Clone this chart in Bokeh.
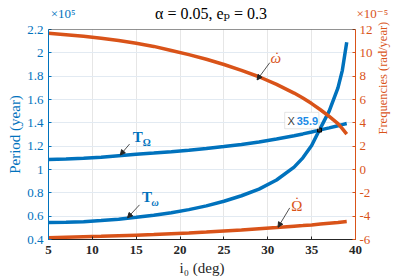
import numpy as np
from bokeh.plotting import figure
from bokeh.layouts import column
from bokeh.models import (Range1d, LinearAxis, FixedTicker, CustomJSTickFormatter,
                          Label, Arrow, NormalHead, BoxAnnotation, Span)
from bokeh.embed import file_html
from bokeh.resources import INLINE

# ---- data ----
i0 = [5, 7, 9, 11, 13, 15, 17, 19, 21, 23, 25, 27, 29, 31, 33, 34, 35, 36, 37, 38, 38.5, 39]
T_Omega = [1.085, 1.09, 1.097, 1.106, 1.118, 1.13, 1.141, 1.153, 1.166, 1.18, 1.197,
           1.215, 1.235, 1.262, 1.29, 1.305, 1.322, 1.340, 1.357, 1.375, 1.385, 1.394]
T_omega = [0.545, 0.548, 0.553, 0.562, 0.574, 0.59, 0.608, 0.63, 0.656, 0.688, 0.728,
           0.775, 0.832, 0.91, 1.02, 1.10, 1.205, 1.355, 1.50, 1.70, 1.85, 2.09]
omega_dot = [11.67, 11.56, 11.42, 11.25, 11.05, 10.82, 10.55, 10.2, 9.85, 9.45, 9.0,
             8.5, 7.95, 7.3, 6.55, 6.12, 5.65, 5.12, 4.55, 3.93, 3.5, 3.03]
Omega_dot = [-5.85, -5.81, -5.77, -5.73, -5.68, -5.63, -5.58, -5.51, -5.44, -5.36, -5.27,
             -5.18, -5.08, -4.98, -4.86, -4.81, -4.75, -4.68, -4.61, -4.54, -4.50, -4.46]
x_ticks = [5, 10, 15, 20, 25, 30, 35, 40]
left_ticks = [0.4, 0.6, 0.8, 1.0, 1.2, 1.4, 1.6, 1.8, 2.0, 2.2]
right_ticks = [-6, -4, -2, 0, 2, 4, 6, 8, 10, 12]
tip_x = 35.9
tip_y = 1.338
title_text = "α = 0.05,  eₚ = 0.3"
left_mult = "×10⁵"
right_mult = "×10⁻⁵"
left_title = "Period (year)"
right_title = "Frequencies (rad/year)"
x_title = "i₀ (deg)"

BLUE = "#0072BD"
ORANGE = "#D95319"
DARK = "#262626"
SERIF = "Liberation Serif, DejaVu Serif, serif"
SANS = "Liberation Sans, DejaVu Sans, sans-serif"

fmt = CustomJSTickFormatter(code="return String(Number(tick.toFixed(2)));")

W, HH = 399, 21
BL, BR = 48, 43

# ---- header strip (title and exponent multipliers) ----
h = figure(width=W, height=HH, output_backend="svg", toolbar_location=None,
           x_range=Range1d(5, 40), y_range=Range1d(0, HH), title_location=None,
           min_border_left=BL, min_border_right=BR, min_border_top=0, min_border_bottom=0,
           x_axis_type=None, y_axis_type=None)
h.outline_line_color = None
h.xgrid.visible = False
h.ygrid.visible = False
h.add_layout(Label(x=23.75, y=8, text=title_text, text_align="center",
                   text_baseline="middle", text_color="black", text_font=SERIF,
                   text_font_size="16px"))

def mult_axis(text, color, standoff):
    ax = LinearAxis(ticker=FixedTicker(ticks=[7]), major_label_overrides={7: text})
    ax.axis_line_color = None
    ax.major_tick_line_color = None
    ax.minor_tick_line_color = None
    ax.major_tick_out = 0
    ax.major_tick_in = 0
    ax.major_label_standoff = standoff
    ax.major_label_text_font = SERIF
    ax.major_label_text_font_size = "13px"
    ax.major_label_text_color = color
    return ax

h.add_layout(mult_axis(left_mult, BLUE, -27), "left")
h.add_layout(mult_axis(right_mult, ORANGE, 1), "right")

# ---- main chart ----
p = figure(width=W, height=279 - HH, output_backend="svg", toolbar_location=None,
           x_range=Range1d(5, 40), y_range=Range1d(0.4, 2.2), title_location=None,
           min_border_left=BL, min_border_right=BR, min_border_top=8, min_border_bottom=40)
p.extra_y_ranges = {"freq": Range1d(-6, 12)}
p.outline_line_color = None
p.background_fill_color = "white"

# grids
p.xgrid.ticker = FixedTicker(ticks=x_ticks)
p.ygrid.ticker = FixedTicker(ticks=left_ticks)
p.xgrid.grid_line_color = "#e6e6e6"
p.ygrid.grid_line_color = "#e2eaf2"

# bottom axis
xa = p.xaxis[0]
xa.ticker = FixedTicker(ticks=x_ticks)
xa.formatter = fmt
xa.axis_line_color = DARK
xa.major_tick_line_color = DARK
xa.major_tick_in = 3
xa.major_tick_out = 0
xa.minor_tick_line_color = None
xa.major_label_text_font = SERIF
xa.major_label_text_font_style = "bold"
xa.major_label_text_font_size = "13px"
xa.major_label_text_color = DARK
xa.major_label_standoff = 6
xa.axis_label = x_title
xa.axis_label_text_font = SERIF
xa.axis_label_text_font_style = "normal"
xa.axis_label_text_font_size = "15px"
xa.axis_label_text_color = DARK
xa.axis_label_standoff = 3

# left axis
ya = p.yaxis[0]
ya.ticker = FixedTicker(ticks=left_ticks)
ya.formatter = fmt
ya.axis_line_color = BLUE
ya.major_tick_line_color = BLUE
ya.major_tick_in = 3
ya.major_tick_out = 0
ya.minor_tick_line_color = None
ya.major_label_text_font = SERIF
ya.major_label_text_font_size = "13px"
ya.major_label_text_color = BLUE
ya.major_label_standoff = 5
ya.axis_label = left_title
ya.axis_label_text_font = SERIF
ya.axis_label_text_font_style = "normal"
ya.axis_label_text_font_size = "15px"
ya.axis_label_text_color = BLUE
ya.axis_label_standoff = 1

# right axis (ticks and numbers)
ra = LinearAxis(y_range_name="freq", ticker=FixedTicker(ticks=right_ticks), formatter=fmt)
ra.axis_line_color = ORANGE
ra.major_tick_line_color = ORANGE
ra.major_tick_in = 3
ra.major_tick_out = 0
ra.minor_tick_line_color = None
ra.major_label_text_font = SERIF
ra.major_label_text_font_size = "13px"
ra.major_label_text_color = ORANGE
ra.major_label_standoff = 4
p.add_layout(ra, "right")

# right axis title, reading bottom to top
rt = LinearAxis(y_range_name="freq", ticker=FixedTicker(ticks=[3]),
                major_label_overrides={3: right_title})
rt.axis_line_color = None
rt.major_tick_line_color = None
rt.minor_tick_line_color = None
rt.major_label_orientation = np.pi / 2
rt.major_label_standoff = 1
rt.major_label_text_font = SERIF
rt.major_label_text_font_size = "12.5px"
rt.major_label_text_color = ORANGE
p.add_layout(rt, "right")

# top box line
p.add_layout(Span(location=2.2, dimension="width", line_color=DARK, line_width=1))

# curves
LW = 3.5
p.line(i0, T_Omega, line_color=BLUE, line_width=LW)
p.line(i0, T_omega, line_color=BLUE, line_width=LW)
p.line(i0, omega_dot, y_range_name="freq", line_color=ORANGE, line_width=LW)
p.line(i0, Omega_dot, y_range_name="freq", line_color=ORANGE, line_width=LW)

# annotations with arrows
def arrow(xs, ys, xe, ye, rng="default"):
    p.add_layout(Arrow(end=NormalHead(size=5, fill_color=DARK, line_color=DARK),
                       x_start=xs, y_start=ys, x_end=xe, y_end=ye,
                       line_color=DARK, line_width=0.8,
                       y_range_name=rng))

arrow(14.24, 1.218, 13.18, 1.124)
arrow(15.375, 0.697, 14.01, 0.586)
arrow(30.23, 9.16, 28.78, 7.68, "freq")
arrow(32.5, -3.29, 31.17, -4.95, "freq")

p.add_layout(Label(x=14.6, y=1.275, text="T", text_color=BLUE, text_font=SERIF,
                   text_font_style="bold", text_font_size="15px", text_baseline="alphabetic"))
p.add_layout(Label(x=15.75, y=1.232, text="Ω", text_color=BLUE, text_font=SERIF,
                   text_font_style="bold", text_font_size="10px", text_baseline="alphabetic"))
p.add_layout(Label(x=15.65, y=0.762, text="T", text_color=BLUE, text_font=SERIF,
                   text_font_style="bold", text_font_size="15px", text_baseline="alphabetic"))
p.add_layout(Label(x=16.75, y=0.719, text="ω", text_color=BLUE, text_font=SERIF,
                   text_font_style="bold italic", text_font_size="10px", text_baseline="alphabetic"))
# omega-dot label (dot drawn above)
p.add_layout(Label(x=30.9, y=9.6, y_range_name="freq", text="ω", text_color=ORANGE,
                   text_font=SERIF, text_font_style="italic", text_font_size="15px",
                   text_align="center", text_baseline="alphabetic"))
p.add_layout(Label(x=31.05, y=9.6, y_range_name="freq", y_offset=1, text="˙",
                   text_color=ORANGE, text_font=SERIF, text_font_size="15px",
                   text_align="center", text_baseline="alphabetic"))
# Omega-dot label
p.add_layout(Label(x=33.32, y=-3.09, y_range_name="freq", text="Ω", text_color=ORANGE,
                   text_font=SERIF, text_font_size="15px",
                   text_align="center", text_baseline="alphabetic"))
p.add_layout(Label(x=33.32, y=-3.09, y_range_name="freq", y_offset=4, text="˙",
                   text_color=ORANGE, text_font=SERIF, text_font_size="15px",
                   text_align="center", text_baseline="alphabetic"))

# data tip
p.add_layout(BoxAnnotation(left=31.93, right=35.83, bottom=1.349, top=1.49,
                           fill_color="white", fill_alpha=0.95,
                           line_color="#a8a8a8", line_width=1))
p.add_layout(Label(x=32.25, y=1.418, text="X", text_color="#404040",
                   text_font=SANS, text_font_size="11px",
                   text_baseline="middle"))
p.add_layout(Label(x=33.3, y=1.418, text=str(tip_x), text_color="#1a8ae6",
                   text_font=SANS, text_font_style="bold",
                   text_font_size="11px", text_baseline="middle"))
p.scatter([tip_x], [tip_y], size=4, marker="square", fill_color="#333333",
          line_color="black")

layout = column(h, p, spacing=0)
open("out.html", "w").write(file_html(layout, INLINE))
